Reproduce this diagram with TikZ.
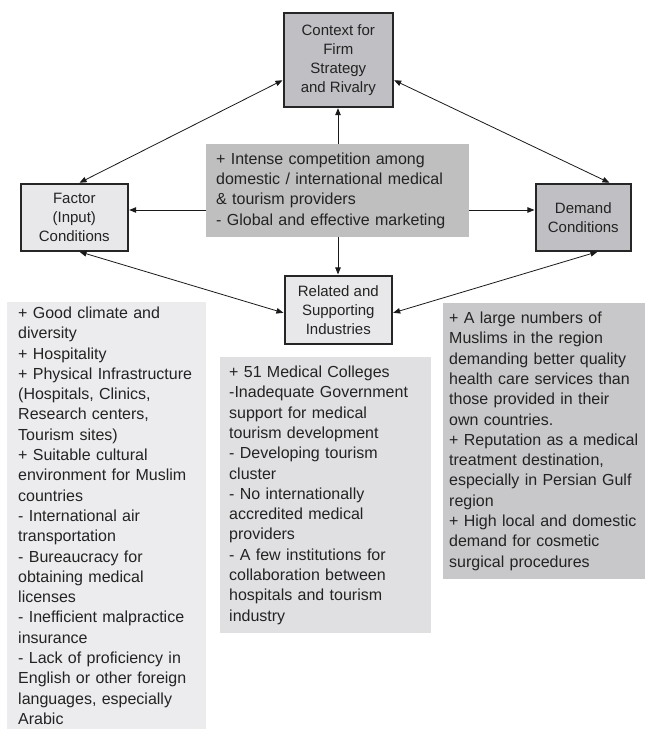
\documentclass[tikz,border=0pt]{standalone}
\usepackage{fontspec}
\setmainfont{Liberation Sans}
\usetikzlibrary{arrows.meta}
\definecolor{boxdark}{RGB}{192,192,196}
\definecolor{boxlight}{RGB}{232,232,234}
\definecolor{centerfill}{RGB}{191,191,192}
\definecolor{listA}{RGB}{236,236,238}
\definecolor{listB}{RGB}{224,224,226}
\definecolor{listC}{RGB}{200,200,202}
\definecolor{inkc}{RGB}{35,35,35}
\hyphenpenalty=10000
\exhyphenpenalty=10000
\begin{document}
\begin{tikzpicture}[x=1pt,y=-1pt,
  mainbox/.style={draw=black!85, line width=1.6pt, align=center, inner sep=0pt,
    font=\fontsize{15}{19}\selectfont, text=inkc, anchor=north west},
  listbox/.style={align=left, inner ysep=0pt, anchor=north west,
    font=\fontsize{16}{20.3}\selectfont, text=inkc},
  conn/.style={line width=0.8pt, draw=black!90},
  tipend/.style={-{Triangle[length=7pt,width=5.5pt]}, shorten >=0.6pt},
  bothends/.style={{Triangle[length=7pt,width=5.5pt]}-{Triangle[length=7pt,width=5.5pt]}, shorten >=0.6pt, shorten <=0.6pt}
]
\useasboundingbox (0,0) rectangle (650,730);

% main boxes
\node[mainbox, fill=boxdark, minimum width=109pt, minimum height=94pt] (ctx) at (283,12)
  {Context for\\Firm\\Strategy\\and Rivalry};
\node[mainbox, fill=boxlight, minimum width=107pt, minimum height=67pt] (fac) at (20,183)
  {Factor\\(Input)\\Conditions};
\node[mainbox, fill=boxdark, minimum width=95pt, minimum height=67pt] (dem) at (535,183)
  {Demand\\Conditions};
\node[mainbox, fill=boxlight, minimum width=107pt, minimum height=68pt] (rel) at (284,275)
  {Related and\\Supporting\\Industries};

% center box
\node[listbox, fill=centerfill, inner xsep=10pt, text width=243pt, minimum height=93pt] (cen) at (206,144)
  {+ Intense competition among\\domestic / international medical\\\& tourism providers\\- Global and effective marketing};

% list boxes
\node[listbox, fill=listA, inner xsep=11pt, text width=177pt, minimum height=427pt] (lfac) at (7,302)
  {+ Good climate and\\diversity\\+ Hospitality\\+ Physical Infrastructure\\(Hospitals, Clinics,\\Research centers,\\Tourism sites)\\+ Suitable cultural\\environment for Muslim\\countries\\- International air\\transportation\\- Bureaucracy for\\obtaining medical\\licenses\\- Inefficient malpractice\\insurance\\- Lack of proficiency in\\English or other foreign\\languages, especially\\Arabic};
\node[listbox, fill=listB, inner xsep=9pt, text width=193pt, minimum height=276pt] (lrel) at (220,357)
  {+ 51 Medical Colleges\\-Inadequate Government\\support for medical\\tourism development\\- Developing tourism\\cluster\\- No internationally\\accredited medical\\providers\\- A few institutions for\\collaboration between\\hospitals and tourism\\industry};
\node[listbox, fill=listC, inner xsep=6pt, text width=190pt, minimum height=276pt] (ldem) at (443,303)
  {+ A large numbers of\\Muslims in the region\\demanding better quality\\health care services than\\those provided in their\\own countries.\\+ Reputation as a medical\\treatment destination,\\especially in Persian Gulf\\region\\+ High local and domestic\\demand for cosmetic\\surgical procedures};

% helper coordinates
\coordinate (yA) at (0,80);
\coordinate (yB) at (0,210);
\coordinate (yC) at (0,313);
\coordinate (xL) at (79,0);
\coordinate (xR1) at (610,0);
\coordinate (xR2) at (598,0);
\coordinate (xM) at (338,0);

% connectors
\draw[conn,bothends] (ctx.west |- yA) -- (fac.north -| xL);
\draw[conn,bothends] (ctx.east |- yA) -- (dem.north -| xR1);
\draw[conn,bothends] (fac.south -| xL) -- (rel.west |- yC);
\draw[conn,bothends] (dem.south -| xR2) -- (rel.east |- yC);
\draw[conn,tipend] (cen.west |- yB) -- (fac.east |- yB);
\draw[conn,tipend] (cen.east |- yB) -- (dem.west |- yB);
\draw[conn,tipend] (cen.north -| xM) -- (ctx.south -| xM);
\draw[conn,tipend] (cen.south -| xM) -- (rel.north -| xM);
\end{tikzpicture}
\end{document}
